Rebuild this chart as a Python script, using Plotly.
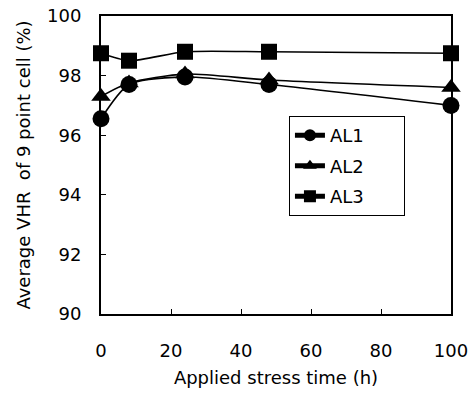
import plotly.graph_objects as go

hours = [0, 8, 24, 48, 100]
al1 = [96.55, 97.7, 97.95, 97.7, 97.0]
al2 = [97.3, 97.75, 98.05, 97.85, 97.6]
al3 = [98.75, 98.5, 98.8, 98.8, 98.75]
series = [("AL1", al1, "circle"), ("AL2", al2, "triangle-up"), ("AL3", al3, "square")]
x_ticks = [0, 20, 40, 60, 80, 100]
y_ticks = [90, 92, 94, 96, 98, 100]

FONT = "DejaVu Sans, Liberation Sans, sans-serif"
PAD = "&nbsp;" * 6
fig = go.Figure()
for name, vals, sym in series:
    fig.add_trace(go.Scatter(
        x=hours, y=vals, name=name + PAD, legendgroup=name,
        mode="lines+markers",
        line=dict(color="black", width=1.6, shape="spline", smoothing=0.7),
        marker=dict(symbol=sym, size=17 if sym != "square" else 16, color="black"),
        cliponaxis=False,
    ))

fig.update_layout(
    width=473, height=394,
    margin=dict(l=101, r=22, t=16, b=80, autoexpand=False),
    paper_bgcolor="white", plot_bgcolor="white",
    font=dict(family=FONT, color="black", size=17),
    showlegend=True,
    legend=dict(
        x=0.537, y=0.664, xanchor="left", yanchor="top",
        bordercolor="black", borderwidth=1, bgcolor="white",
        font=dict(size=18), itemsizing="constant",
        tracegroupgap=4,
    ),
    xaxis=dict(
        range=[0, 100], tickvals=x_ticks, ticks="inside", ticklen=5,
        tickcolor="black", showline=True, linecolor="black", linewidth=2,
        mirror=True, showgrid=False, zeroline=False, automargin=False,
        tickfont=dict(size=18), ticklabelstandoff=19,
        title=dict(text="Applied stress time (h)", font=dict(size=18), standoff=12),
    ),
    yaxis=dict(
        range=[90, 100], tickvals=y_ticks, ticks="inside", ticklen=5,
        tickcolor="black", showline=True, linecolor="black", linewidth=2,
        mirror=True, showgrid=False, zeroline=False, automargin=False,
        tickfont=dict(size=18), ticklabelstandoff=14,
        title=dict(text="Average VHR&nbsp; of 9 point cell (%)", font=dict(size=18), standoff=12),
    ),
)
fig.write_html("out.html")
